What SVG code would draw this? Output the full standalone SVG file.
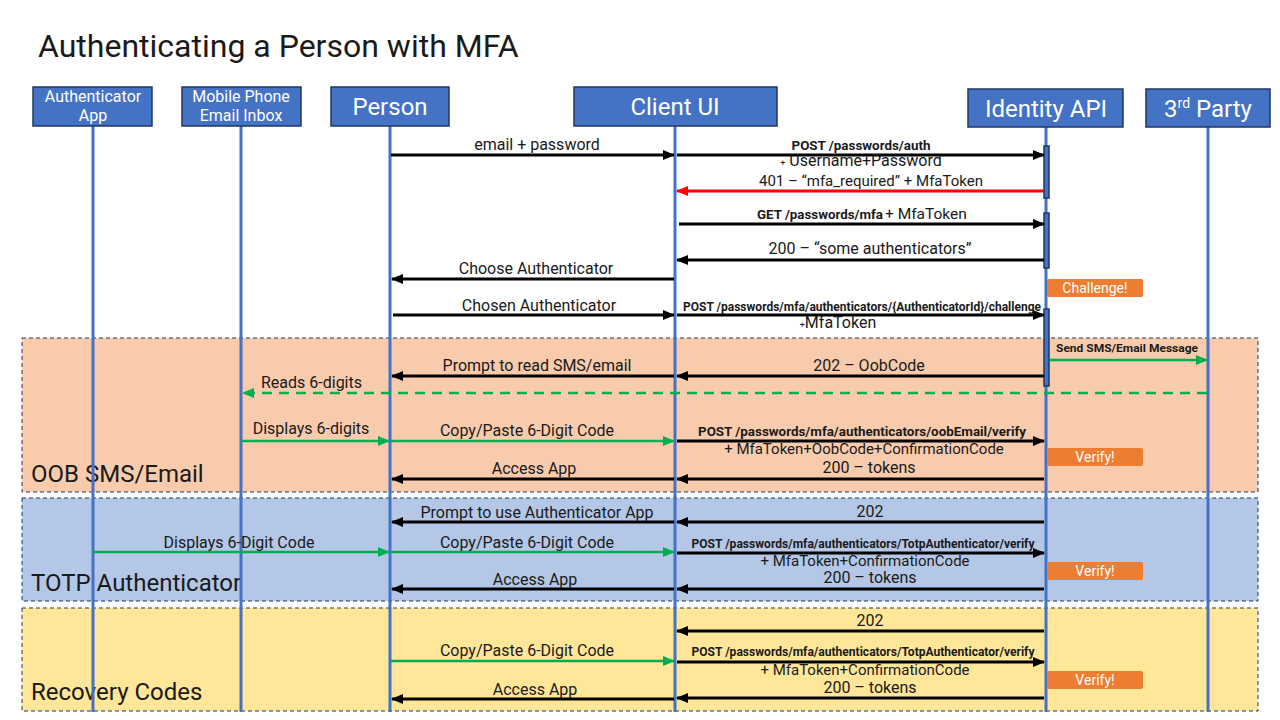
<svg xmlns="http://www.w3.org/2000/svg" width="1280" height="720" viewBox="0 0 1280 720">
<style>
  text { font-family: Roboto, "Liberation Sans", Arial, sans-serif; fill: #1a1a1a; }
  .hdr rect { fill: #4472C4; stroke: #203864; stroke-width: 1.5; }
  .hdr text { fill: #ffffff; text-anchor: middle; }
  .life { stroke: #4472C4; stroke-width: 3; }
  .act { fill: #4472C4; stroke: #203864; stroke-width: 1; }
  .band { stroke: #203864; stroke-width: 1; stroke-dasharray: 4 3; }
  .blk { stroke: #000; stroke-width: 3; fill: none; marker-end: url(#ab); }
  .grn { stroke: #00B050; stroke-width: 2.5; fill: none; marker-end: url(#ag); }
  .red { stroke: #FF0000; stroke-width: 3; fill: none; marker-end: url(#ar); }
  .lbl { font-size: 16px; text-anchor: middle; }
  .sm { font-size: 15px; }
  .bold { font-size: 12px; font-weight: bold; text-anchor: middle; }
  .sec { font-size: 24px; }
  .note rect { fill: #ED7D31; }
  .note text { fill: #ffffff; font-size: 14px; text-anchor: middle; }
</style>
<defs>
  <marker id="ab" markerUnits="userSpaceOnUse" markerWidth="12" markerHeight="10" refX="11" refY="5" orient="auto">
    <path d="M0,0 L12,5 L0,10 z" fill="#000"/>
  </marker>
  <marker id="ag" markerUnits="userSpaceOnUse" markerWidth="12" markerHeight="10" refX="11" refY="5" orient="auto">
    <path d="M0,0 L12,5 L0,10 z" fill="#00B050"/>
  </marker>
  <marker id="ar" markerUnits="userSpaceOnUse" markerWidth="12" markerHeight="10" refX="11" refY="5" orient="auto">
    <path d="M0,0 L12,5 L0,10 z" fill="#FF0000"/>
  </marker>
</defs>

<rect x="0" y="0" width="1280" height="720" fill="#ffffff"/>

<text x="38" y="57" font-size="32">Authenticating a Person with MFA</text>

<!-- sections -->
<g id="sections">
  <rect class="band" x="22" y="338" width="1236" height="154" fill="#F8CBAD"/>
  <rect class="band" x="22" y="498" width="1236" height="103" fill="#B4C7E7"/>
  <rect class="band" x="22" y="608" width="1236" height="103" fill="#FFE699"/>
  <text class="sec" x="31" y="482">OOB SMS/Email</text>
  <text class="sec" x="31" y="591">TOTP Authenticator</text>
  <text class="sec" x="31" y="700">Recovery Codes</text>
</g>

<!-- participants -->
<g id="authenticator-app" class="hdr">
  <line class="life" x1="93" y1="126" x2="93" y2="712"/>
  <rect x="33" y="87" width="119" height="39"/>
  <text x="93" y="102" font-size="16">Authenticator</text>
  <text x="93" y="121" font-size="16">App</text>
</g>
<g id="mobile-phone" class="hdr">
  <line class="life" x1="241" y1="126" x2="241" y2="712"/>
  <rect x="182" y="87" width="119" height="39"/>
  <text x="241" y="102" font-size="16">Mobile Phone</text>
  <text x="241" y="121" font-size="16">Email Inbox</text>
</g>
<g id="person" class="hdr">
  <line class="life" x1="390" y1="126" x2="390" y2="712"/>
  <rect x="331" y="87" width="118" height="39"/>
  <text x="390" y="115" font-size="24">Person</text>
</g>
<g id="client-ui" class="hdr">
  <line class="life" x1="675" y1="126" x2="675" y2="712"/>
  <rect x="574" y="87" width="203" height="39"/>
  <text x="675" y="115" font-size="24">Client UI</text>
</g>
<g id="identity-api" class="hdr">
  <line class="life" x1="1046" y1="127" x2="1046" y2="712"/>
  <rect x="968" y="89" width="155" height="38"/>
  <text x="1046" y="117" font-size="24">Identity API</text>
  <rect class="act" x="1044" y="146" width="5" height="52"/>
  <rect class="act" x="1044" y="213" width="5" height="55"/>
  <rect class="act" x="1044" y="309" width="5" height="77"/>
</g>
<g id="third-party" class="hdr">
  <line class="life" x1="1208" y1="127" x2="1208" y2="712"/>
  <rect x="1146" y="89" width="124" height="38"/>
  <text x="1208" y="117" font-size="24">3<tspan font-size="14" dy="-9">rd</tspan><tspan dy="9"> Party</tspan></text>
</g>

<!-- notes -->
<g id="note-challenge" class="note">
  <rect x="1047" y="279" width="96" height="18" rx="2"/>
  <text x="1095" y="293">Challenge!</text>
</g>
<g id="note-verify-1" class="note">
  <rect x="1047" y="448" width="96" height="18" rx="2"/>
  <text x="1095" y="462">Verify!</text>
</g>
<g id="note-verify-2" class="note">
  <rect x="1047" y="562" width="96" height="18" rx="2"/>
  <text x="1095" y="576">Verify!</text>
</g>
<g id="note-verify-3" class="note">
  <rect x="1047" y="671" width="96" height="18" rx="2"/>
  <text x="1095" y="685">Verify!</text>
</g>

<!-- connectors -->
<g id="connectors">
  <line class="blk" x1="391" y1="155" x2="674" y2="155"/>
  <line class="blk" x1="677" y1="155" x2="1044" y2="155"/>
  <line class="red" x1="1044" y1="191" x2="677" y2="191"/>
  <line class="blk" x1="679" y1="224" x2="1044" y2="224"/>
  <line class="blk" x1="1044" y1="260" x2="677" y2="260"/>
  <line class="blk" x1="674" y1="279" x2="392" y2="279"/>
  <line class="blk" x1="393" y1="315" x2="674" y2="315"/>
  <line class="blk" x1="677" y1="315" x2="1044" y2="315"/>
  <line class="grn" x1="1050" y1="360" x2="1207" y2="360"/>
  <line class="blk" x1="1044" y1="376" x2="677" y2="376"/>
  <line class="blk" x1="674" y1="376" x2="392" y2="376"/>
  <line class="grn" x1="1207" y1="393" x2="243" y2="393" stroke-dasharray="10 7"/>
  <line class="grn" x1="242" y1="441" x2="389" y2="441"/>
  <line class="grn" x1="391" y1="441" x2="674" y2="441"/>
  <line class="blk" x1="677" y1="441" x2="1044" y2="441"/>
  <line class="blk" x1="1044" y1="479" x2="677" y2="479"/>
  <line class="blk" x1="674" y1="479" x2="392" y2="479"/>

  <line class="blk" x1="1044" y1="522" x2="677" y2="522"/>
  <line class="blk" x1="674" y1="522" x2="392" y2="522"/>
  <line class="grn" x1="94" y1="552" x2="389" y2="552"/>
  <line class="grn" x1="391" y1="552" x2="674" y2="552"/>
  <line class="blk" x1="677" y1="553" x2="1044" y2="553"/>
  <line class="blk" x1="1044" y1="589" x2="677" y2="589"/>
  <line class="blk" x1="674" y1="589" x2="392" y2="589"/>

  <line class="blk" x1="1044" y1="631" x2="677" y2="631"/>
  <line class="grn" x1="391" y1="661" x2="674" y2="661"/>
  <line class="blk" x1="677" y1="662" x2="1044" y2="662"/>
  <line class="blk" x1="1044" y1="698" x2="677" y2="698"/>
  <line class="blk" x1="674" y1="699" x2="392" y2="699"/>
</g>

<!-- connector labels -->
<g id="labels">
  <text class="lbl" x="537" y="150">email + password</text>
  <text class="bold" x="861" y="150" textLength="139" lengthAdjust="spacingAndGlyphs">POST /passwords/auth</text>
  <text class="lbl" x="861" y="166" font-size="14"><tspan font-size="9">+</tspan> Username+Password</text>
  <text class="lbl sm" x="871" y="186">401 – “mfa_required” + MfaToken</text>
  <text x="757" y="219" font-size="12" font-weight="bold" textLength="126" lengthAdjust="spacingAndGlyphs">GET /passwords/mfa</text>
  <text x="885" y="219" font-size="15.5">+ MfaToken</text>
  <text class="lbl" x="870" y="254">200 – “some authenticators”</text>
  <text class="lbl" x="536" y="274">Choose Authenticator</text>
  <text class="lbl" x="539" y="311">Chosen Authenticator</text>
  <text class="bold" x="862" y="311" textLength="358" lengthAdjust="spacingAndGlyphs">POST /passwords/mfa/authenticators/{AuthenticatorId}/challenge</text>
  <text class="lbl" x="838" y="328" font-size="14"><tspan font-size="9">+</tspan>MfaToken</text>
  <text x="1056" y="352" font-size="11" font-weight="bold" textLength="142" lengthAdjust="spacingAndGlyphs">Send SMS/Email Message</text>
  <text class="lbl" x="869" y="371">202 – OobCode</text>
  <text class="lbl" x="537" y="371">Prompt to read SMS/email</text>
  <text x="261" y="388" font-size="16">Reads 6-digits</text>
  <text class="lbl" x="311" y="434">Displays 6-digits</text>
  <text class="lbl" x="527" y="436">Copy/Paste 6-Digit Code</text>
  <text class="bold" x="862" y="436" textLength="328" lengthAdjust="spacingAndGlyphs">POST /passwords/mfa/authenticators/oobEmail/verify</text>
  <text class="lbl sm" x="864" y="454">+ MfaToken+OobCode+ConfirmationCode</text>
  <text class="lbl" x="869" y="473">200 – tokens</text>
  <text class="lbl" x="534" y="474">Access App</text>

  <text class="lbl" x="870" y="517">202</text>
  <text class="lbl" x="537" y="518">Prompt to use Authenticator App</text>
  <text class="lbl" x="239" y="548">Displays 6-Digit Code</text>
  <text class="lbl" x="527" y="548">Copy/Paste 6-Digit Code</text>
  <text class="bold" x="863" y="548" textLength="343" lengthAdjust="spacingAndGlyphs">POST /passwords/mfa/authenticators/TotpAuthenticator/verify</text>
  <text class="lbl sm" x="865" y="566">+ MfaToken+ConfirmationCode</text>
  <text class="lbl" x="870" y="583">200 – tokens</text>
  <text class="lbl" x="535" y="585">Access App</text>

  <text class="lbl" x="870" y="626">202</text>
  <text class="lbl" x="527" y="656">Copy/Paste 6-Digit Code</text>
  <text class="bold" x="863" y="656" textLength="343" lengthAdjust="spacingAndGlyphs">POST /passwords/mfa/authenticators/TotpAuthenticator/verify</text>
  <text class="lbl sm" x="865" y="675">+ MfaToken+ConfirmationCode</text>
  <text class="lbl" x="870" y="693">200 – tokens</text>
  <text class="lbl" x="535" y="695">Access App</text>
</g>
</svg>
